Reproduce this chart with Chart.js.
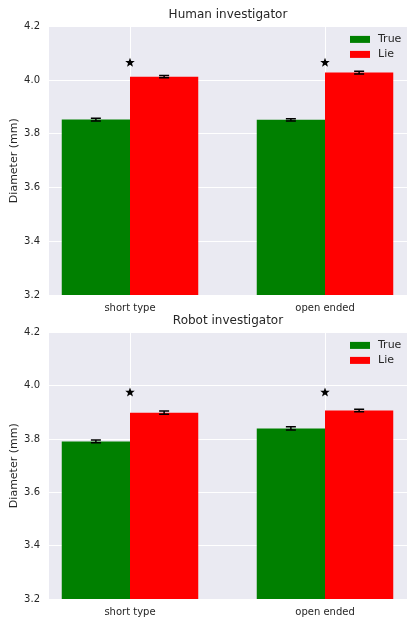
<!DOCTYPE html>
<html>
<head>
<meta charset="utf-8">
<script src="https://cdn.jsdelivr.net/npm/chart.js@4.4.1/dist/chart.umd.min.js"></script>
<style>
  body { margin: 0; background: #fff; }
  #wrap { position: relative; width: 407px; height: 620px; overflow: hidden; }
  canvas { position: absolute; left: 0; }
</style>
</head>
<body>
<div id="wrap">
  <canvas id="humanChart" width="407" height="316" style="top:0"></canvas>
  <canvas id="robotChart" width="407" height="314" style="top:306px"></canvas>
</div>
<script>
const categories = ['short type', 'open ended'];
const seriesLabels = ['True', 'Lie'];
const seriesColors = ['#008000', '#ff0000'];
const yTicks = [3.2, 3.4, 3.6, 3.8, 4.0, 4.2];

const humanTrue = [3.853, 3.852];
const humanLie = [4.013, 4.028];
const humanTrueErr = [0.005, 0.004];
const humanLieErr = [0.004, 0.005];
const humanStars = [4.065, 4.065];

const robotTrue = [3.791, 3.840];
const robotLie = [3.899, 3.907];
const robotTrueErr = [0.005, 0.006];
const robotLieErr = [0.006, 0.005];
const robotStars = [3.975, 3.975];

const textColor = '#262626';
const fontFamily = '"DejaVu Sans", sans-serif';

function drawStar(ctx, cx, cy, r) {
  ctx.beginPath();
  for (let i = 0; i < 10; i++) {
    const rad = i % 2 === 0 ? r : r * 0.42;
    const a = -Math.PI / 2 + i * Math.PI / 5;
    const px = cx + rad * Math.cos(a);
    const py = cy + rad * Math.sin(a);
    if (i === 0) ctx.moveTo(px, py); else ctx.lineTo(px, py);
  }
  ctx.closePath();
  ctx.fill();
}

const extrasPlugin = {
  id: 'extras',
  beforeDraw(chart) {
    const { ctx, chartArea: a } = chart;
    ctx.save();
    ctx.fillStyle = '#eaeaf2';
    ctx.fillRect(a.left, a.top, a.right - a.left, a.bottom - a.top);
    ctx.restore();
  },
  afterDatasetsDraw(chart) {
    const { ctx, scales, chartArea } = chart;
    const extra = chart.options.plugins.extras;
    ctx.save();
    // error bars
    ctx.strokeStyle = '#000';
    ctx.lineWidth = 1.5;
    chart.data.datasets.forEach((ds, di) => {
      const meta = chart.getDatasetMeta(di);
      ds.data.forEach((pt, i) => {
        const bar = meta.data[i];
        const err = extra.errors[di][i];
        const yTop = scales.y.getPixelForValue(pt.y + err);
        const yBot = scales.y.getPixelForValue(pt.y - err);
        const x = bar.x;
        ctx.beginPath();
        ctx.moveTo(x, yTop); ctx.lineTo(x, yBot);
        ctx.moveTo(x - 5, yTop); ctx.lineTo(x + 5, yTop);
        ctx.moveTo(x - 5, yBot); ctx.lineTo(x + 5, yBot);
        ctx.stroke();
      });
    });
    // significance stars
    ctx.fillStyle = '#000';
    extra.stars.forEach((v, i) => {
      drawStar(ctx, scales.x.getPixelForValue(i), scales.y.getPixelForValue(v), 5);
    });
    // legend inside plot
    ctx.font = '11px ' + fontFamily;
    ctx.textBaseline = 'middle';
    ctx.textAlign = 'left';
    seriesLabels.forEach((lab, i) => {
      const y = chartArea.top + 13 + i * 15;
      ctx.fillStyle = seriesColors[i];
      ctx.fillRect(chartArea.left + 301, y - 3.5, 20, 7);
      ctx.fillStyle = textColor;
      ctx.fillText(lab, chartArea.left + 329, y);
    });
    ctx.restore();
  }
};

function makeChart(id, title, trueVals, lieVals, trueErr, lieErr, stars) {
  const toPoints = vals => vals.map((v, i) => ({ x: i, y: v }));
  return new Chart(document.getElementById(id), {
    type: 'bar',
    data: {
      datasets: [
        { label: seriesLabels[0], data: toPoints(trueVals), backgroundColor: seriesColors[0] },
        { label: seriesLabels[1], data: toPoints(lieVals), backgroundColor: seriesColors[1] }
      ]
    },
    options: {
      responsive: false,
      animation: false,
      devicePixelRatio: 1,
      categoryPercentage: 0.7,
      barPercentage: 1.0,
      layout: { padding: 0 },
      plugins: {
        legend: { display: false },
        tooltip: { enabled: false },
        title: {
          display: true,
          fullSize: false,
          text: title,
          color: textColor,
          font: { family: fontFamily, size: 12, weight: 'normal' },
          padding: { top: 8, bottom: 4 }
        },
        extras: { errors: [trueErr, lieErr], stars: stars }
      },
      scales: {
        x: {
          type: 'linear',
          offset: false,
          min: -0.4154,
          max: 1.4205,
          afterBuildTicks: s => { s.ticks = categories.map((c, i) => ({ value: i })); },
          afterFit: s => { s.height = 21; },
          ticks: {
            color: textColor,
            font: { family: fontFamily, size: 10 },
            padding: 7,
            maxRotation: 0,
            callback: v => categories[v]
          },
          grid: { color: '#ffffff', lineWidth: 1, drawTicks: false, offset: false },
          border: { display: false }
        },
        y: {
          min: 3.2,
          max: 4.2,
          afterBuildTicks: s => { s.ticks = yTicks.map(v => ({ value: v })); },
          afterFit: s => { s.width = 49; },
          ticks: {
            color: textColor,
            font: { family: fontFamily, size: 10 },
            padding: 9,
            callback: v => v.toFixed(1)
          },
          title: {
            display: true,
            text: 'Diameter (mm)',
            color: textColor,
            font: { family: fontFamily, size: 11 },
            padding: { top: 8, bottom: 0 }
          },
          grid: { color: '#ffffff', lineWidth: 1, drawTicks: false },
          border: { display: false }
        }
      }
    },
    plugins: [extrasPlugin]
  });
}

makeChart('humanChart', 'Human investigator', humanTrue, humanLie, humanTrueErr, humanLieErr, humanStars);
makeChart('robotChart', 'Robot investigator', robotTrue, robotLie, robotTrueErr, robotLieErr, robotStars);
</script>
</body>
</html>
